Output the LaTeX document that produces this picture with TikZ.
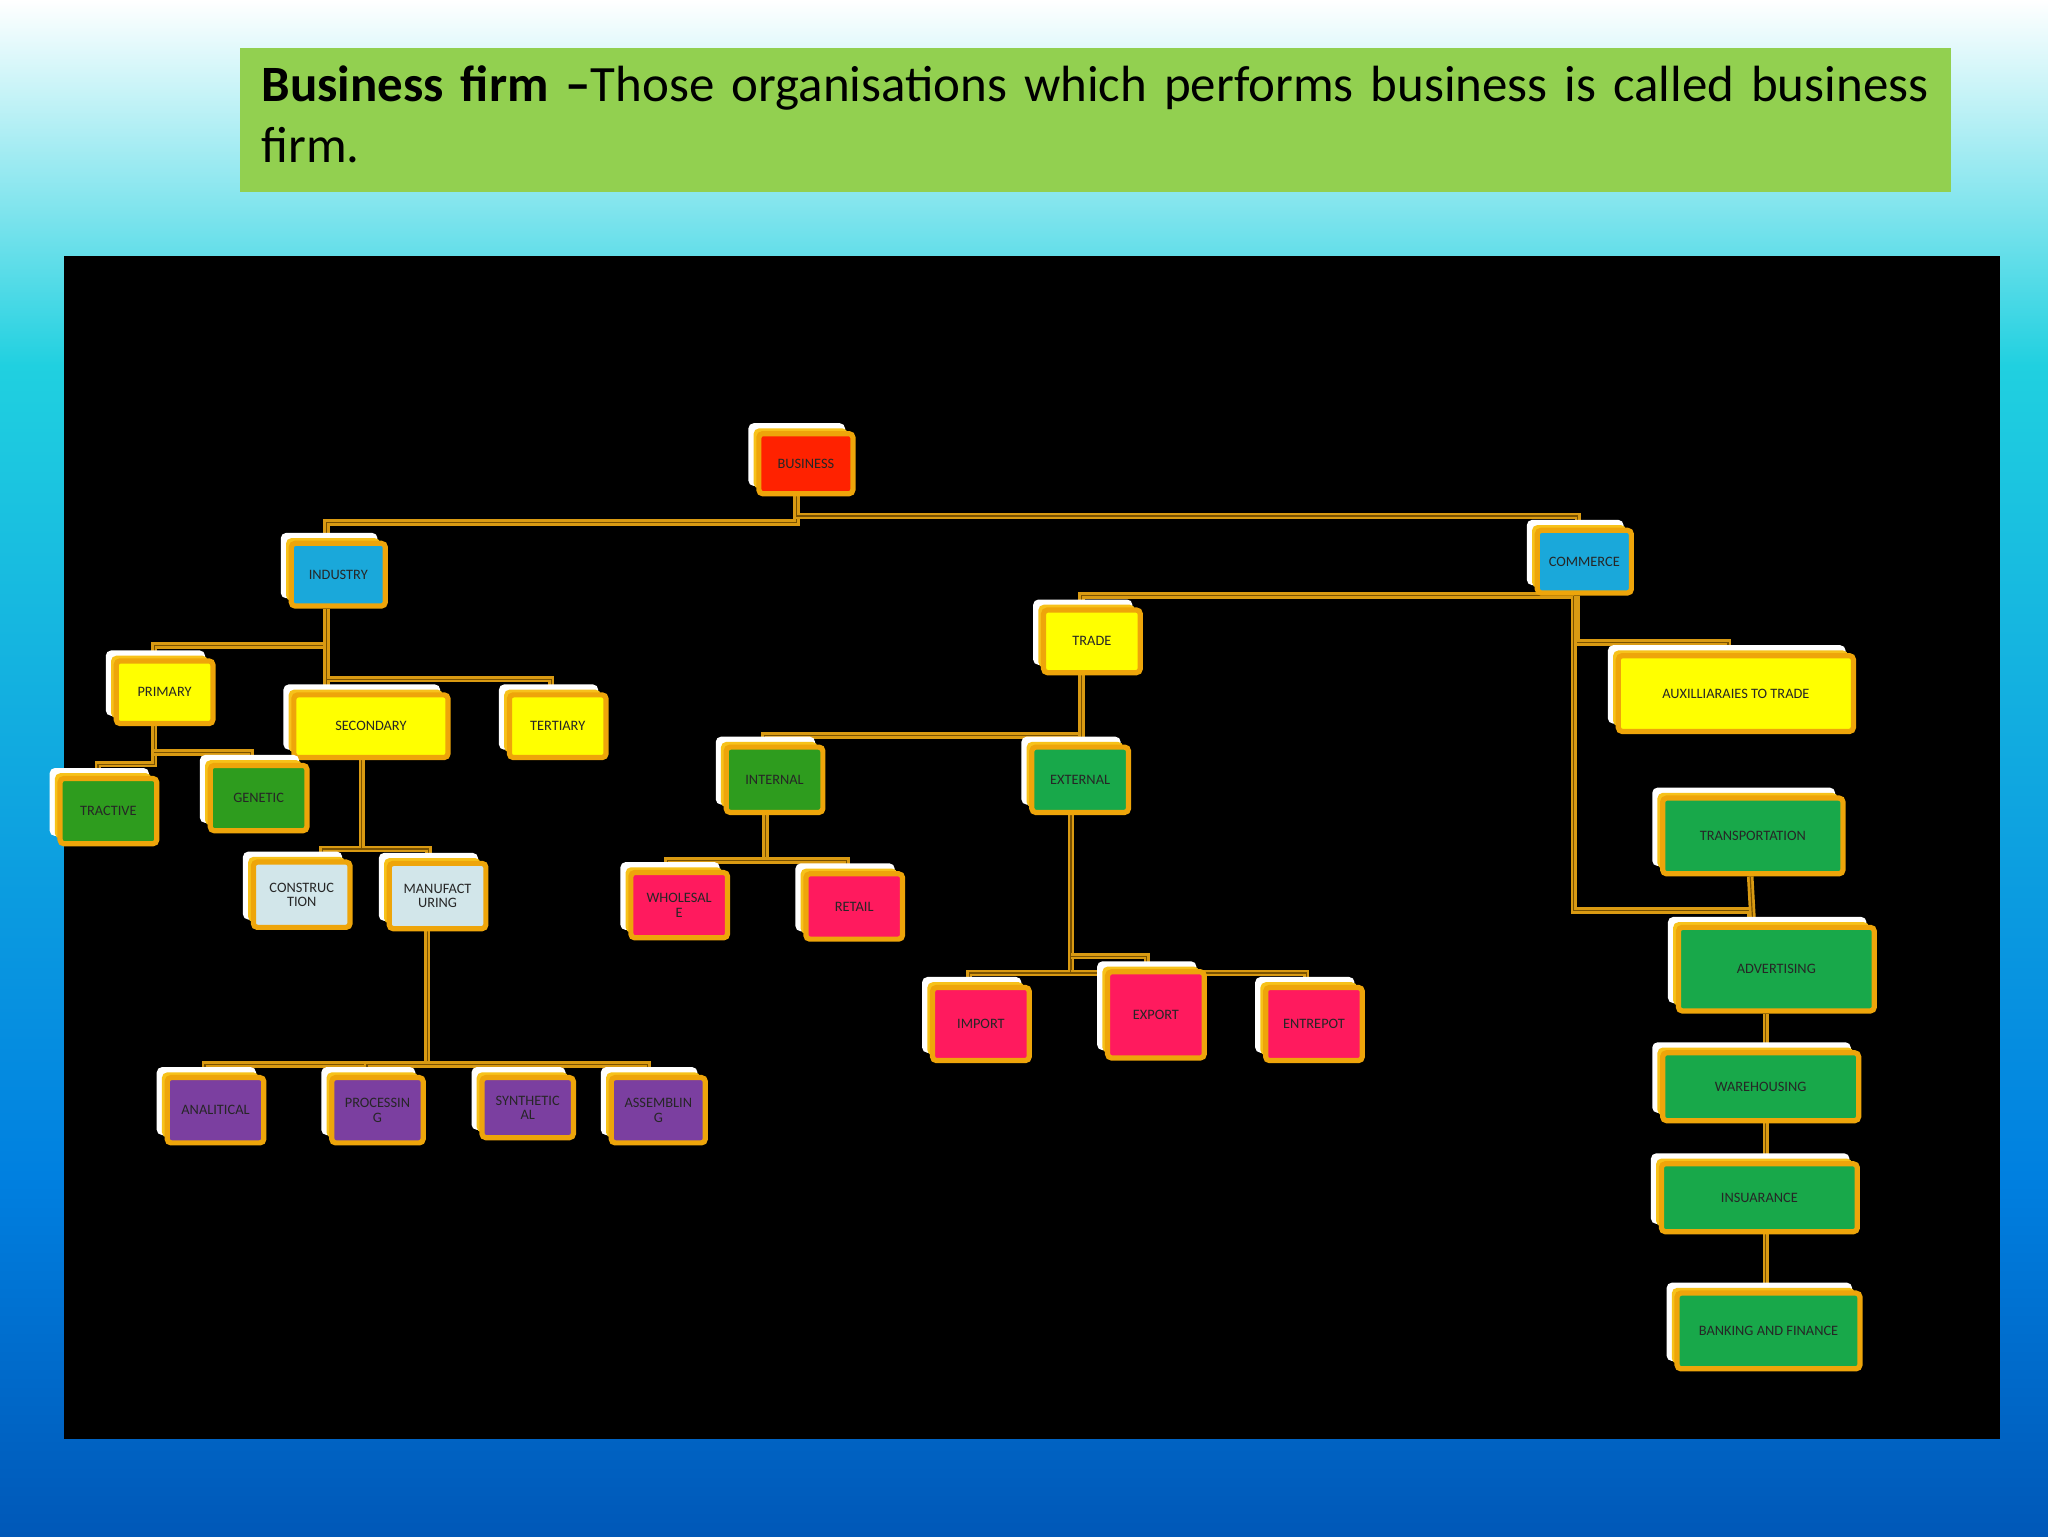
\documentclass[tikz,border=0pt]{standalone}
\usepackage{fontspec}
\setmainfont{Carlito}
\pgfdeclarelayer{bgg}
\pgfdeclarelayer{mid}
\pgfsetlayers{bgg,mid,main}
\begin{document}
\definecolor{org}{HTML}{EEA50A}
\definecolor{org2}{HTML}{F7C21A}
\definecolor{cline}{HTML}{D99A12}
\definecolor{cin}{HTML}{7A5200}
\definecolor{cred}{HTML}{FF2200}
\definecolor{cblue}{HTML}{1AA8DA}
\definecolor{cyel}{HTML}{FFFF00}
\definecolor{cgd}{HTML}{2E9C1E}
\definecolor{cg}{HTML}{18A84A}
\definecolor{clb}{HTML}{D2E6EA}
\definecolor{cpk}{HTML}{FF1A5E}
\definecolor{cpu}{HTML}{7B3FA0}
\definecolor{tgreen}{HTML}{92D050}
\definecolor{bgcy}{HTML}{20D0E0}
\definecolor{bgbl}{HTML}{0080E0}
\definecolor{bgdk}{HTML}{0058B8}
\begin{tikzpicture}[x=1pt,y=-1pt,
 box/.style={draw=org,line width=4pt,rounded corners=3pt,inner sep=1pt,align=center,
   font=\fontsize{11}{11}\selectfont,text=black!85},
 con/.style={draw=cline,line width=5pt,postaction={draw=cin,line width=0.9pt}}]
\useasboundingbox (0,0) rectangle (1568,1176);
\begin{pgfonlayer}{bgg}
\shade[top color=white,bottom color=bgcy] (0,0) rectangle (1568,280);
\shade[top color=bgcy,bottom color=bgbl] (0,280) rectangle (1568,900);
\shade[top color=bgbl,bottom color=bgdk] (0,900) rectangle (1568,1176);
\fill[tgreen] (184,37) rectangle (1494,147);
\node[anchor=north west,text width=1285pt,align=left,font=\fontsize{39}{47}\selectfont,inner sep=0pt] (title) at (200,50)
 {\textbf{Business firm --}Those organisations which performs business is called business firm.};
\fill[black] (49,196) rectangle (1531,1102);
\end{pgfonlayer}
\newcommand\bx[7]{%
 \fill[white,rounded corners=4pt] (#2-#4/2-8,#3-#5/2-8) rectangle ++(#4+2,#5+2);
 \fill[org2,rounded corners=4pt] (#2-#4/2-4,#3-#5/2-4) rectangle ++(#4,#5);
 \node[box,fill=#6,minimum width=#4pt,minimum height=#5pt] (#1) at (#2,#3) {#7};}
\bx{BUS}{617}{355}{72}{46}{cred}{BUSINESS}
\bx{IND}{259}{440}{72}{48}{cblue}{INDUSTRY}
\bx{COM}{1213}{430}{72}{48}{cblue}{COMMERCE}
\bx{TRD}{836}{491}{74}{48}{cyel}{TRADE}
\bx{AUX}{1329}{531}{180}{58}{cyel}{AUXILLIARAIES TO TRADE}
\bx{PRI}{126}{530}{74}{48}{cyel}{PRIMARY}
\bx{SEC}{284}{556}{118}{48}{cyel}{SECONDARY}
\bx{TER}{427}{556}{74}{48}{cyel}{TERTIARY}
\bx{TRA}{83}{621}{74}{50}{cgd}{TRACTIVE}
\bx{GEN}{198}{611}{74}{50}{cgd}{GENETIC}
\bx{CON}{231}{685}{74}{50}{clb}{CONSTRUC\\TION}
\bx{MAN}{335}{686}{74}{50}{clb}{MANUFACT\\URING}
\bx{INT}{593}{597}{74}{50}{cgd}{INTERNAL}
\bx{EXT}{827}{597}{74}{50}{cg}{EXTERNAL}
\bx{WHO}{520}{693}{74}{50}{cpk}{WHOLESAL\\E}
\bx{RET}{654}{694}{74}{50}{cpk}{RETAIL}
\bx{IMP}{751}{784}{74}{56}{cpk}{IMPORT}
\bx{EXP}{885}{777}{74}{66}{cpk}{EXPORT}
\bx{ENT}{1006}{784}{74}{56}{cpk}{ENTREPOT}
\bx{ANA}{165}{850}{74}{50}{cpu}{ANALITICAL}
\bx{PRO}{289}{850}{70}{50}{cpu}{PROCESSIN\\G}
\bx{SYN}{404}{848}{70}{46}{cpu}{SYNTHETIC\\AL}
\bx{ASS}{504}{850}{72}{50}{cpu}{ASSEMBLIN\\G}
\bx{TRN}{1342}{640}{138}{58}{cg}{TRANSPORTATION}
\bx{ADV}{1360}{742}{150}{64}{cg}{ADVERTISING}
\bx{WAR}{1348}{832}{150}{52}{cg}{WAREHOUSING}
\bx{INS}{1347}{917}{150}{52}{cg}{INSUARANCE}
\bx{BNK}{1354}{1019}{140}{58}{cg}{BANKING AND FINANCE}
\begin{pgfonlayer}{mid}
\path[con] ([xshift=-7pt]BUS.south) -- ([xshift=-7pt]BUS.south |- 0,400) -| ([xshift=-9pt]IND.north);
\path[con] ([xshift=-7pt]BUS.south) -- ([xshift=-7pt]BUS.south |- 0,395) -| ([xshift=-5pt]COM.north);
\path[con] ([xshift=-8pt]COM.south) -- ([xshift=-8pt]COM.south |- 0,456) -| ([xshift=-8pt]TRD.north);
\path[con] ([xshift=-6pt]COM.south) -- ([xshift=-6pt]COM.south |- 0,492) -| ([xshift=-6pt]AUX.north);
\path[con] ([xshift=-8pt]COM.south) -- ([xshift=-8pt]COM.south |- 0,697) -| ([xshift=-20pt]ADV.north);
\path[con] ([xshift=-2pt]TRN.south) -- ([xshift=-18pt]ADV.north);
\path[con] (WAR.north -| 1352,0) -- (ADV.south -| 1352,0);
\path[con] (INS.north -| 1352,0) -- (WAR.south -| 1352,0);
\path[con] (BNK.north -| 1352,0) -- (INS.south -| 1352,0);
\path[con] ([xshift=-9pt]IND.south) -- ([xshift=-9pt]IND.south |- 0,494) -| ([xshift=-8pt]PRI.north);
\path[con] ([xshift=-9pt]IND.south) -- ([xshift=-9pt]IND.south |- SEC.north);
\path[con] ([xshift=-9pt]IND.south |- 0,520) -| ([xshift=-5pt]TER.north);
\path[con] ([xshift=-8pt]PRI.south) -- ([xshift=-8pt]PRI.south |- 0,585) -| ([xshift=-8pt]TRA.north);
\path[con] ([xshift=-8pt]PRI.south |- 0,576) -| ([xshift=-6pt]GEN.north);
\path[con] ([xshift=-7pt]SEC.south) -- ([xshift=-7pt]SEC.south |- 0,650) -| ([xshift=16pt]CON.north);
\path[con] ([xshift=-7pt]SEC.south |- 0,650) -| ([xshift=-7pt]MAN.north);
\path[con] ([xshift=-8pt]MAN.south) -- ([xshift=-8pt]MAN.south |- 0,815) -| ([xshift=-8pt]ANA.north);
\path[con] ([xshift=-8pt]MAN.south |- 0,815) -| ([xshift=-8pt]PRO.north);
\path[con] ([xshift=-8pt]MAN.south |- 0,815) -| ([xshift=-8pt]SYN.north);
\path[con] ([xshift=-8pt]MAN.south |- 0,815) -| ([xshift=-8pt]ASS.north);
\path[con] ([xshift=-8pt]TRD.south) -- ([xshift=-8pt]TRD.south |- 0,563) -| ([xshift=-8pt]INT.north);
\path[con] ([xshift=-8pt]TRD.south) -- ([xshift=-8pt]TRD.south |- EXT.north);
\path[con] ([xshift=-7pt]INT.south) -- ([xshift=-7pt]INT.south |- 0,659) -| ([xshift=-9pt]WHO.north);
\path[con] ([xshift=-7pt]INT.south |- 0,659) -| ([xshift=-6pt]RET.north);
\path[con] ([xshift=-7pt]EXT.south) -- ([xshift=-7pt]EXT.south |- 0,745) -| ([xshift=-9pt]IMP.north);
\path[con] ([xshift=-7pt]EXT.south |- 0,732) -| ([xshift=-7pt]EXP.north);
\path[con] ([xshift=-7pt]EXT.south |- 0,745) -| ([xshift=-6pt]ENT.north);
\end{pgfonlayer}
\end{tikzpicture}
\end{document}
